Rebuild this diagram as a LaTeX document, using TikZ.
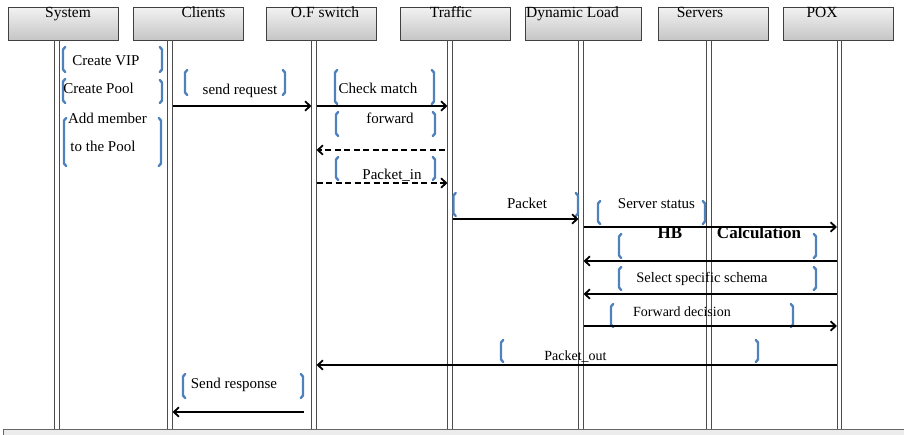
\documentclass[tikz,border=0pt]{standalone}
\usepackage{fontspec}
\setmainfont{Liberation Serif}
\usetikzlibrary{arrows.meta,positioning,calc}
\tikzset{>={Straight Barb[length=5pt,width=9.5pt]}}
\definecolor{brblue}{RGB}{79,129,189}
\tikzset{
  head/.style={draw=black!75, line width=0.8pt, top color=gray!10, bottom color=gray!45,
    minimum width=110pt, minimum height=33pt, inner sep=0pt},
  headtxt/.style={font=\fontsize{15.5}{17}\selectfont, anchor=base, inner sep=0pt},
  life/.style={draw=black!70, line width=0.9pt},
  msg/.style={->, line width=1.8pt, shorten >=2.6pt, shorten <=2.6pt},
  dmsg/.style={msg, dash pattern=on 6pt off 3.5pt},
  lbl/.style={font=\fontsize{15}{17}\selectfont, anchor=base, inner sep=0pt},
  brk/.style={brblue, line width=2.4pt, line cap=round, line join=round}
}
% blue brackets round the message texts
\newcommand\openbr[3]{\draw[brk] (#1+2.2,#2) -- (#1,#2+2.5) -- (#1,#3-2.5) -- (#1+2.2,#3);}
\newcommand\closebr[3]{\draw[brk] (#1-2.2,#2) -- (#1,#2+2.5) -- (#1,#3-2.5) -- (#1-2.2,#3);}

\begin{document}
\begin{tikzpicture}[x=1pt, y=-1pt]
    \useasboundingbox (0,0) rectangle (904,434);

    % header boxes
    \node[head] (sys) at (63,23.5) {};
    \node[head] (cli) at (188.5,23.5) {};
    \node[head] (ofs) at (321.5,23.5) {};
    \node[head] (trf) at (455,23.5) {};
    \node[head, minimum width=116pt] (dyn) at (583,23.5) {};
    \node[head] (srv) at (713,23.5) {};
    \node[head] (pox) at (838,23.5) {};
    \node[headtxt] (systxt) at (68,17.5) {System};
    \node[headtxt] (clitxt) at (203.5,17.5) {Clients};
    \node[headtxt] (ofstxt) at (325,17.5) {O.F switch};
    \node[headtxt] (trftxt) at (451,17.5) {Traffic};
    \node[headtxt] (dyntxt) at (572.5,17.5) {Dynamic Load};
    \node[headtxt] (srvtxt) at (700,17.5) {Servers};
    \node[headtxt] (poxtxt) at (822,17.5) {POX};

    % bottom bar
    \filldraw[fill=gray!15, draw=black!60, line width=0.8pt] (3,437) -- (3,429) -- (907,429) -- (907,437);

    % lifelines (two thin lines each)
    \coordinate (sysA) at (57,40);   \coordinate (sysB) at (57,429);
    \coordinate (cliA) at (170,40);  \coordinate (cliB) at (170,429);
    \coordinate (ofsA) at (314,40);  \coordinate (ofsB) at (314,429);
    \coordinate (trfA) at (450,40);  \coordinate (trfB) at (450,429);
    \coordinate (dynA) at (581,40);  \coordinate (dynB) at (581,429);
    \coordinate (srvA) at (709,40);  \coordinate (srvB) at (709,429);
    \coordinate (poxA) at (839.5,40);\coordinate (poxB) at (839.5,429);
    \foreach \n in {sys,cli,ofs,trf,dyn,srv,pox} {
      \draw[life] ([xshift=-2.3pt]\n A) -- ([xshift=-2.3pt]\n B);
      \draw[life] ([xshift=2.3pt]\n A) -- ([xshift=2.3pt]\n B);
    }

    % system steps
    \openbr{63}{47}{72} \closebr{162}{47}{72}
    \node[lbl] (vip) at (106,65) {Create VIP};
    \openbr{63}{79}{103} \closebr{162}{80}{103}
    \node[lbl] (pool) at (98.5,93) {Create Pool};
    \openbr{64}{118}{166} \closebr{161}{118}{166}
    \node[lbl] (add1) at (107.5,123) {Add member};
    \node[lbl] (add2) at (103,151) {to the Pool};

    % messages
    \openbr{185}{70}{95} \closebr{285}{70}{95}
    \node[lbl] (req) at (240,94) {send request};
    \draw[msg] (cliB |- 0,106) -- (ofsB |- 0,106);

    \openbr{335}{70}{104} \closebr{434}{70}{104}
    \node[lbl] (chk) at (378,93) {Check match};
    \draw[msg] (ofsB |- 0,106) -- (trfB |- 0,106);

    \openbr{336}{112}{136} \closebr{435}{112}{136}
    \node[lbl] (fwd) at (390,123) {forward};
    \draw[dmsg, shorten <=5pt] (trfB |- 0,150) -- (ofsB |- 0,150);

    \openbr{336}{157}{180} \closebr{435}{157}{180}
    \node[lbl] (pin) at (392,179) {Packet\_in};
    \draw[dmsg] (ofsB |- 0,183) -- (trfB |- 0,183);

    \openbr{453.5}{193}{216} \closebr{578}{193}{216}
    \node[lbl] (pkt) at (527,208) {Packet};
    \draw[msg] (trfB |- 0,219) -- (dynB |- 0,219);

    \openbr{598}{201}{224} \closebr{705}{201}{224}
    \node[lbl] (stat) at (656.5,208) {Server status};
    \draw[msg] (dynB |- 0,227) -- (poxB |- 0,227);

    \openbr{619}{234}{258} \closebr{816}{234}{258}
    \node[lbl, font=\fontsize{17}{19}\selectfont\bfseries] (hb) at (670,238) {HB};
    \node[lbl, font=\fontsize{17}{19}\selectfont\bfseries] (calc) at (759,238) {Calculation};
    \draw[msg] (poxB |- 0,261) -- (dynB |- 0,261);

    \openbr{619}{267}{290} \closebr{816}{267}{290}
    \node[lbl, font=\fontsize{14.5}{16}\selectfont] (sel) at (702,282) {Select specific schema};
    \draw[msg] (poxB |- 0,294) -- (dynB |- 0,294);

    \openbr{611}{304}{327} \closebr{793}{304}{327}
    \node[lbl, font=\fontsize{14}{16}\selectfont] (dec) at (682,316) {Forward decision};
    \draw[msg] (dynB |- 0,326) -- (poxB |- 0,326);

    \openbr{501}{340}{362} \closebr{758}{340}{362}
    \node[lbl, font=\fontsize{14}{16}\selectfont] (pout) at (575.5,360) {Packet\_out};
    \draw[msg] (poxB |- 0,365) -- (ofsB |- 0,365);

    \openbr{183}{374}{398} \closebr{303}{374}{398}
    \node[lbl] (resp) at (234,388) {Send response};
    \coordinate (respA) at (304,412);
    \draw[msg, shorten <=0pt] (respA) -- (cliB |- respA);
\end{tikzpicture}
\end{document}
